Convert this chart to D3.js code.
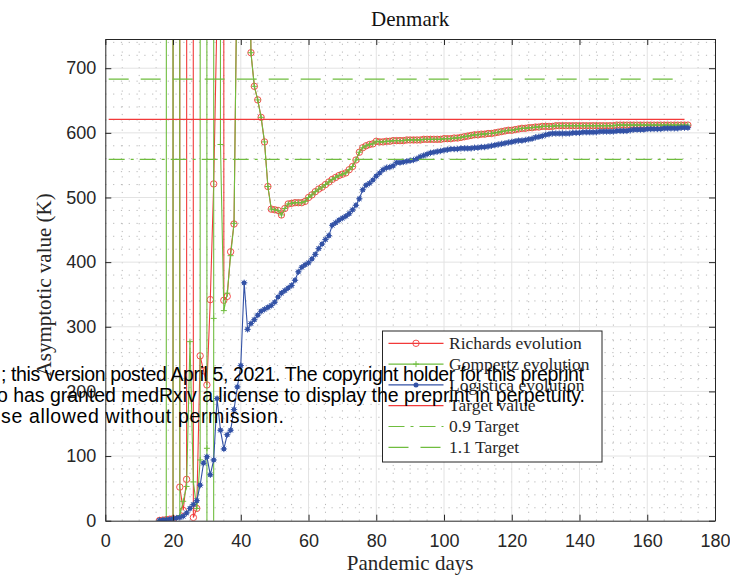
<!DOCTYPE html>
<html>
<head>
<meta charset="utf-8">
<script src="https://cdn.jsdelivr.net/npm/d3@7"></script>
<style>
  body { margin: 0; background: #fff; }
  svg { display: block; }
</style>
</head>
<body>
<svg id="chart" width="730" height="580"></svg>
<script>
// ---- data -------------------------------------------------------------
const firstDay = 16;

// early, unstable fits (days 16..42); very large / negative values run off the axes
const richardsEarly = [0.4, 0.9, 1.6, 2.3, 3.1, 41800, 52, 16, 64, 27500, 5, 19, 255, 232, 210,
  342, 521, 790, 36900, 341, 347, 416, 459, 905, 1650, 2380, 1210];
const gompertzEarly = [0.4, 0.9, 1.5, 36200, 2.9, 51300, 8, 30, 53, 277, 60, 19, 94, 44700, 112,
  -38900, 313, 47100, 582, 325, 352, 410, 460, 898, 1720, 2290, 1260];
const logisticEarly = [0.5, 1, 1.5, 2, 3, 4, 5, 7, 12, 19, 25, 31, 55, 89, 99,
  71, 94, 189, 140, 111, 133, 140, 172, 207, 240, 368, 296];

// days 43..172: Richards and Gompertz converge to the same estimates
const fitLate = [724, 672, 651, 624, 586, 517, 482, 481, 480, 473, 483, 490, 491, 492, 492, 492, 494, 500,
  504, 509, 513, 516, 520, 524, 528, 531, 534, 536, 538, 543, 548, 558, 570, 577, 580, 582, 583, 587,
  586, 586, 587, 587, 588, 588, 588, 588, 589, 589, 589, 589, 589, 590, 590, 590, 590, 590, 590, 591,
  591, 591, 592, 592, 593, 594, 595, 596, 597, 597, 598, 598, 599, 599, 600, 601, 602, 603, 604, 604,
  605, 606, 607, 607, 608, 608, 609, 609, 610, 610, 610, 610, 611, 611, 611, 611, 611, 611, 611, 611,
  611, 611, 611, 611, 611, 611, 611, 611, 611, 611, 612, 612, 612, 612, 612, 612, 612, 612, 612, 612,
  612, 612, 612, 612, 612, 612, 612, 612, 612, 612, 612, 612];
const logisticLate = [305, 311, 318, 324, 327, 330, 333, 338, 346, 352, 356, 360, 364, 372, 385, 392, 396,
  399, 405, 412, 421, 428, 435, 441, 457, 461, 465, 468, 471, 475, 481, 488, 498, 512, 519, 522, 527,
  533, 538, 543, 546, 547, 549, 554, 554, 555, 556, 557, 558, 560, 563, 565, 567, 569, 570, 571, 572,
  573, 574, 575, 575, 575, 576, 576, 576, 576, 577, 577, 578, 578, 579, 580, 581, 582, 583, 584, 585,
  586, 587, 588, 588, 589, 590, 591, 593, 594, 595, 597, 598, 599, 599, 599, 599, 599, 599, 600, 600,
  600, 601, 601, 601, 601, 601, 602, 602, 602, 602, 602, 603, 603, 603, 603, 604, 605, 605, 605, 605,
  606, 606, 606, 606, 606, 607, 607, 607, 607, 607, 608, 608, 608];

const targetValue = 621;
const targetDays = [1, 171];

const xTicks = [0, 20, 40, 60, 80, 100, 120, 140, 160, 180];
const yTicks = [0, 100, 200, 300, 400, 500, 600, 700];

const seriesNames = ["Richards evolution", "Gompertz evolution", "Logistica evolution",
  "Target value", "0.9 Target", "1.1 Target"];
const titleText = "Denmark";
const xLabel = "Pandemic days";
const yLabel = "Asymptotic value (K)";
const noticeLines = [
  "; this version posted April 5, 2021. The copyright holder for this preprint",
  "o has granted medRxiv a license to display the preprint in perpetuity.",
  "se allowed without permission."
];

// ---- build series ------------------------------------------------------
const toPoints = vals => vals.map((v, i) => ({ day: firstDay + i, value: v }));
const richards = toPoints(richardsEarly.concat(fitLate));
const gompertz = toPoints(gompertzEarly.concat(fitLate));
const logistic = toPoints(logisticEarly.concat(logisticLate));

// ---- styles ------------------------------------------------------------
const RED = "#f23a3a", GREEN = "#6fbd3e", BLUE = "#3352a6", AXIS = "#262626";
const SERIF = "'Liberation Serif', 'Times New Roman', serif";
const SANS = "'Liberation Sans', Arial, Helvetica, sans-serif";

const svg = d3.select("#chart");
const X0 = 105.3, X1 = 715, Y0 = 520.7, Y1 = 39;

const x = d3.scaleLinear().domain([0, 180]).range([X0, X1]);
const y = d3.scaleLinear().domain([0, 1.2 * targetValue]).range([Y0, Y1]);

svg.append("rect").attr("width", 730).attr("height", 580).attr("fill", "#fff");
svg.append("defs").append("clipPath").attr("id", "plotClip")
  .append("rect").attr("x", X0).attr("y", Y1).attr("width", X1 - X0).attr("height", Y0 - Y1);

// ---- grid --------------------------------------------------------------
const grid = svg.append("g");
const minorX = d3.range(0, 181, 5).filter(d => d % 20 !== 0);
const minorY = d3.range(0, 1.2 * targetValue, 20).filter(d => d % 100 !== 0);

grid.selectAll(".mx").data(minorX).join("line")
  .attr("x1", d => x(d)).attr("x2", d => x(d)).attr("y1", Y0).attr("y2", Y1)
  .attr("stroke", "#b8b8b8").attr("stroke-width", 1).attr("stroke-dasharray", "1.2,6.6");
grid.selectAll(".my").data(minorY).join("line")
  .attr("y1", d => y(d)).attr("y2", d => y(d)).attr("x1", X0).attr("x2", X1)
  .attr("stroke", "#b8b8b8").attr("stroke-width", 1).attr("stroke-dasharray", "1.2,6.6");
grid.selectAll(".gx").data(xTicks.filter(d => d > 0 && d < 180)).join("line")
  .attr("x1", d => x(d)).attr("x2", d => x(d)).attr("y1", Y0).attr("y2", Y1)
  .attr("stroke", "#e3e3e3").attr("stroke-width", 1);
grid.selectAll(".gy").data(yTicks.filter(d => d > 0)).join("line")
  .attr("y1", d => y(d)).attr("y2", d => y(d)).attr("x1", X0).attr("x2", X1)
  .attr("stroke", "#e3e3e3").attr("stroke-width", 1);

// ---- series ------------------------------------------------------------
const plot = svg.append("g").attr("clip-path", "url(#plotClip)");
const line = d3.line().x(d => x(d.day)).y(d => y(d.value));
const visible = pts => pts.filter(d => d.value >= -5 && d.value <= 1.2 * targetValue + 5);

// Richards: red line with open circles
plot.append("path").datum(richards).attr("d", line)
  .attr("fill", "none").attr("stroke", RED).attr("stroke-width", 1.1);
plot.append("g").selectAll("circle").data(visible(richards)).join("circle")
  .attr("cx", d => x(d.day)).attr("cy", d => y(d.value)).attr("r", 3.2)
  .attr("fill", "none").attr("stroke", RED).attr("stroke-width", 0.9);

// Gompertz: green line with plus markers
plot.append("path").datum(gompertz).attr("d", line)
  .attr("fill", "none").attr("stroke", GREEN).attr("stroke-width", 1.1);
plot.append("g").selectAll("path").data(visible(gompertz)).join("path")
  .attr("transform", d => `translate(${x(d.day)},${y(d.value)})`)
  .attr("d", "M-3,0H3M0,-3V3")
  .attr("fill", "none").attr("stroke", GREEN).attr("stroke-width", 1);

// Logistic: blue line with asterisk-dot markers
plot.append("path").datum(logistic).attr("d", line)
  .attr("fill", "none").attr("stroke", BLUE).attr("stroke-width", 1.1);
const lm = plot.append("g").selectAll("g").data(visible(logistic)).join("g")
  .attr("transform", d => `translate(${x(d.day)},${y(d.value)})`);
lm.append("circle").attr("r", 2.3).attr("fill", BLUE);
lm.append("path").attr("d", "M-3.2,0H3.2M0,-3.2V3.2M-2.3,-2.3L2.3,2.3M-2.3,2.3L2.3,-2.3")
  .attr("stroke", BLUE).attr("stroke-width", 0.9);

// target lines
const targets = [
  { f: 1.0, color: RED, dash: null },
  { f: 0.9, color: GREEN, dash: "16,6,3,6" },
  { f: 1.1, color: GREEN, dash: "20,12" }
];
targets.forEach(t => {
  const pts = targetDays.map(d => ({ day: d, value: t.f * targetValue }));
  plot.append("path").datum(pts).attr("d", line)
    .attr("fill", "none").attr("stroke", t.color).attr("stroke-width", 1.2)
    .attr("stroke-dasharray", t.dash);
});

// ---- axes --------------------------------------------------------------
const styleAxis = g => {
  g.select(".domain").attr("stroke", AXIS).attr("stroke-width", 1);
  g.selectAll(".tick line").attr("stroke", AXIS).attr("stroke-width", 1);
  g.selectAll(".tick text").attr("fill", AXIS).style("font-family", SANS).style("font-size", "18px");
};
svg.append("g").attr("transform", `translate(0,${Y0})`)
  .call(d3.axisBottom(x).tickValues(xTicks).tickSizeInner(-6).tickSizeOuter(0).tickPadding(14))
  .call(styleAxis);
svg.append("g").attr("transform", `translate(${X0},0)`)
  .call(d3.axisLeft(y).tickValues(yTicks).tickSizeInner(-6).tickSizeOuter(0).tickPadding(9))
  .call(styleAxis);
svg.append("g").attr("transform", `translate(0,${Y1})`)
  .call(d3.axisTop(x).tickValues(xTicks).tickSizeInner(-6).tickSizeOuter(0).tickFormat(""))
  .call(styleAxis);
svg.append("g").attr("transform", `translate(${X1},0)`)
  .call(d3.axisRight(y).tickValues(yTicks).tickSizeInner(-6).tickSizeOuter(0).tickFormat(""))
  .call(styleAxis);

// ---- titles ------------------------------------------------------------
svg.append("text").attr("x", (X0 + X1) / 2).attr("y", 26).attr("text-anchor", "middle")
  .style("font-family", SERIF).style("font-size", "21px").attr("fill", "#111").text(titleText);
svg.append("text").attr("x", (X0 + X1) / 2).attr("y", 570).attr("text-anchor", "middle")
  .style("font-family", SERIF).style("font-size", "21px").attr("fill", AXIS).text(xLabel);
svg.append("text").attr("transform", `translate(51,${(Y0 + Y1) / 2 + 5}) rotate(-90)`)
  .attr("text-anchor", "middle")
  .style("font-family", SERIF).style("font-size", "21px").attr("fill", AXIS).text(yLabel);

// ---- legend ------------------------------------------------------------
const lg = svg.append("g");
const LX = 382.5, LY = 331, LW = 219.5, LH = 131;
lg.append("rect").attr("x", LX).attr("y", LY).attr("width", LW).attr("height", LH)
  .attr("fill", "#fff").attr("stroke", AXIS).attr("stroke-width", 1);
const legendStyles = [
  { color: RED, dash: null, marker: "circle" },
  { color: GREEN, dash: null, marker: "plus" },
  { color: BLUE, dash: null, marker: "dot" },
  { color: RED, dash: null, marker: null },
  { color: GREEN, dash: "16,6,3,6", marker: null },
  { color: GREEN, dash: "20,12", marker: null }
];
seriesNames.forEach((name, i) => {
  const cy = 343.3 + i * 20.8;
  const s = legendStyles[i];
  lg.append("line").attr("x1", 388.5).attr("x2", 443.5).attr("y1", cy).attr("y2", cy)
    .attr("stroke", s.color).attr("stroke-width", 1.2).attr("stroke-dasharray", s.dash);
  const mx = 416;
  if (s.marker === "circle") lg.append("circle").attr("cx", mx).attr("cy", cy).attr("r", 3.2)
    .attr("fill", "none").attr("stroke", s.color).attr("stroke-width", 0.9);
  if (s.marker === "plus") lg.append("path").attr("d", `M${mx - 3},${cy}H${mx + 3}M${mx},${cy - 3}V${cy + 3}`)
    .attr("stroke", s.color).attr("stroke-width", 1);
  if (s.marker === "dot") lg.append("circle").attr("cx", mx).attr("cy", cy).attr("r", 2.5).attr("fill", s.color);
  lg.append("text").attr("x", 449).attr("y", cy).attr("dy", "0.33em")
    .style("font-family", SERIF).style("font-size", "17.5px").attr("fill", AXIS).text(name);
});

// ---- overlaid notice ---------------------------------------------------
const notice = svg.append("g").style("font-family", SANS).style("font-size", "19.5px").attr("fill", "#000");
const noticeX = [1, -3, 1];
const noticeW = [583, 588, 283];
noticeLines.forEach((t, i) => {
  notice.append("text").attr("x", noticeX[i]).attr("y", 381 + i * 21)
    .attr("textLength", noticeW[i]).attr("lengthAdjust", "spacing").text(t);
});
</script>
</body>
</html>
